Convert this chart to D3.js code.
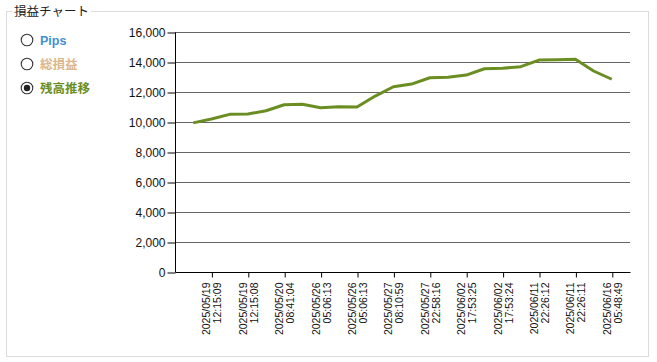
<!DOCTYPE html>
<html>
<head>
<meta charset="utf-8">
<script src="https://cdn.jsdelivr.net/npm/d3@7"></script>
<style>
html,body{margin:0;padding:0;background:#fff;}
svg{display:block;}
</style>
</head>
<body>
<svg id="chart" width="657" height="362"></svg>
<script>
// ---- data ----
const title = "損益チャート";
const legendItems = ["Pips", "総損益", "残高推移"];
const legendColors = ["#3f8fd2", "#dcb88c", "#6b8e23"];
const selectedIndex = 2;
const balance = [9940, 10200, 10510, 10530, 10750, 11150, 11180, 10950, 11020, 11000,
                 11730, 12350, 12530, 12950, 12980, 13130, 13550, 13580, 13690, 14130,
                 14150, 14180, 13400, 12850];
const tickIndices = [1, 3, 5, 7, 9, 11, 13, 15, 17, 19, 21, 23];
const tickDates = ["2025/05/19", "2025/05/19", "2025/05/20", "2025/05/26", "2025/05/26", "2025/05/27",
                   "2025/05/27", "2025/06/02", "2025/06/02", "2025/06/11", "2025/06/11", "2025/06/16"];
const tickTimes = ["12:15:09", "12:15:08", "08:41:04", "05:06:13", "05:06:13", "08:10:59",
                   "22:58:16", "17:53:25", "17:53:24", "22:26:12", "22:26:11", "05:48:49"];
const yTicks = [0, 2000, 4000, 6000, 8000, 10000, 12000, 14000, 16000];

// ---- drawing ----
(function () {
const svg = d3.select("#chart");
const font = "'Liberation Sans', Arial, 'Noto Sans CJK JP', sans-serif";
const lineColor = "#6b8e23";

// frame (fieldset-like)
svg.append("rect").attr("x", 6.5).attr("y", 11.5).attr("width", 642).attr("height", 345)
  .attr("fill", "none").attr("stroke", "#dcdcdc").attr("stroke-width", 1);
const tt = svg.append("text").attr("x", 14).attr("y", 16)
  .attr("font-family", font).attr("font-size", 12.5).attr("fill", "#222").text(title);
const bb = tt.node().getBBox();
svg.insert("rect", "text").attr("x", bb.x - 2).attr("y", 8).attr("width", bb.width + 4).attr("height", 8)
  .attr("fill", "#fff");

// legend radios
const leg = svg.append("g");
legendItems.forEach((name, i) => {
  const cy = 40 + i * 24;
  leg.append("circle").attr("cx", 27).attr("cy", cy).attr("r", 5.8)
    .attr("fill", "#fff").attr("stroke", "#333").attr("stroke-width", 1.1);
  if (i === selectedIndex) {
    leg.append("circle").attr("cx", 27).attr("cy", cy).attr("r", 3.2).attr("fill", "#222");
  }
  leg.append("text").attr("x", 40).attr("y", cy + 4.5)
    .attr("font-family", font).attr("font-size", 12.5).attr("font-weight", "bold")
    .attr("fill", legendColors[i]).text(name);
});

// scales
const pLeft = 175, pRight = 630, pTop = 32, pBottom = 272;
const x = d3.scalePoint().domain(d3.range(balance.length)).range([pLeft, pRight]).padding(1);
const y = d3.scaleLinear().domain([0, 16000]).range([pBottom, pTop]);

// gridlines
svg.append("g").selectAll("line").data(yTicks.filter(d => d > 0)).join("line")
  .attr("x1", pLeft).attr("x2", pRight)
  .attr("y1", d => Math.round(y(d)) + 0.5).attr("y2", d => Math.round(y(d)) + 0.5)
  .attr("stroke", "#666").attr("stroke-width", 1);

// y axis
const yAxis = svg.append("g").attr("transform", `translate(${pLeft + 0.5},0.5)`)
  .call(d3.axisLeft(y).tickValues(yTicks).tickSize(8).tickPadding(2).tickFormat(d3.format(",")));
yAxis.select(".domain").attr("stroke", "#000").attr("d", `M0,${pTop}V${pBottom}`);
yAxis.selectAll(".tick line").attr("stroke", "#000");
yAxis.selectAll("text").attr("font-family", font).attr("font-size", 12).attr("fill", "#111");

// x axis
const xAxis = svg.append("g").attr("transform", `translate(0.5,${pBottom + 0.5})`)
  .call(d3.axisBottom(x).tickValues(tickIndices).tickSize(5).tickFormat(""));
xAxis.select(".domain").attr("stroke", "#000").attr("d", `M${pLeft},0H${pRight}`);
xAxis.selectAll(".tick line").attr("stroke", "#000");
xAxis.selectAll(".tick").each(function(d, i) {
  const t = d3.select(this).append("text")
    .attr("transform", "rotate(-90)")
    .attr("text-anchor", "end")
    .attr("font-family", font).attr("font-size", 10.5).attr("fill", "#111");
  t.append("tspan").attr("x", -10).attr("y", -2).text(tickDates[i]);
  t.append("tspan").attr("x", -10).attr("y", 9).text(tickTimes[i]);
});

// line
svg.append("path").datum(balance)
  .attr("fill", "none").attr("stroke", lineColor).attr("stroke-width", 3)
  .attr("stroke-linejoin", "round")
  .attr("d", d3.line().x((d, i) => x(i)).y(d => y(d)));
})();
</script>
</body>
</html>
